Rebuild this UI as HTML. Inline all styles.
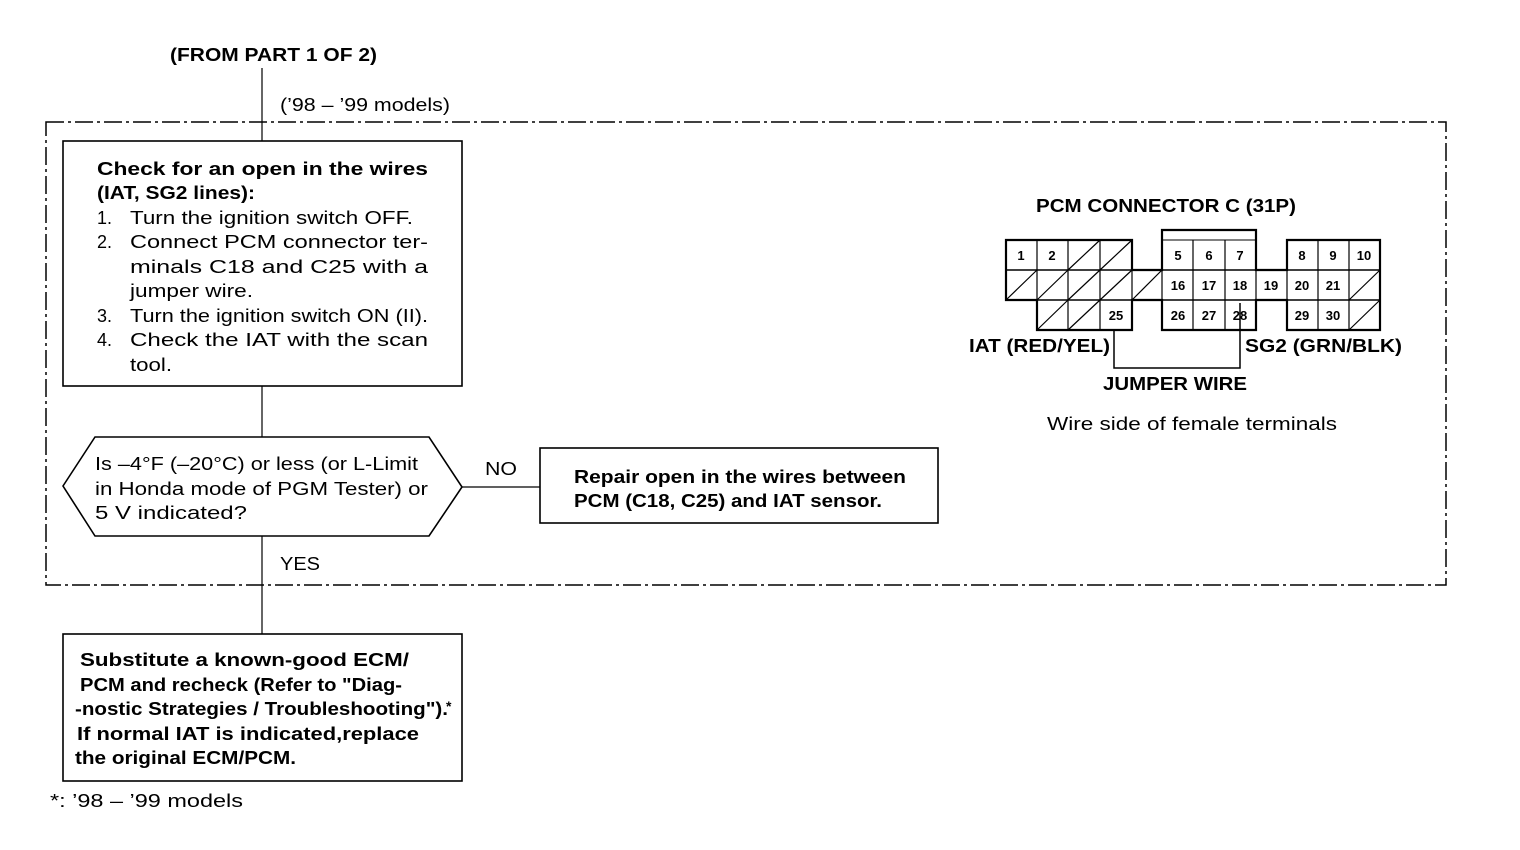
<!DOCTYPE html>
<html><head><meta charset="utf-8"><style>
html,body{margin:0;padding:0;background:#fff}
svg{display:block}
text{font-family:"Liberation Sans",sans-serif;fill:#000}
.b{font-weight:bold}
</style></head><body>
<svg width="1520" height="850" viewBox="0 0 1520 850" xmlns="http://www.w3.org/2000/svg">
<g stroke="#000" fill="none">
<rect x="46" y="122" width="1400" height="463" stroke-width="1.5" stroke-dasharray="18,4,3,4"/>
<line x1="262" y1="68" x2="262" y2="634" stroke-width="1.2"/>
<rect x="63" y="141" width="399" height="245" fill="#fff" stroke-width="1.6"/>
<polygon points="63,486 95,437 429,437 462,487 429,536 95,536" fill="#fff" stroke-width="1.6"/>
<line x1="462" y1="487" x2="540" y2="487" stroke-width="1.2"/>
<rect x="540" y="448" width="398" height="75" stroke-width="1.6"/>
<rect x="63" y="634" width="399" height="147" fill="#fff" stroke-width="1.6"/>
</g>
<g font-size="18" lengthAdjust="spacingAndGlyphs">
<text x="170" y="61" class="b" textLength="207" lengthAdjust="spacingAndGlyphs">(FROM PART 1 OF 2)</text>
<text x="280" y="111" textLength="170" lengthAdjust="spacingAndGlyphs">(’98 – ’99 models)</text>
<text x="97" y="175" class="b" textLength="331" lengthAdjust="spacingAndGlyphs">Check for an open in the wires</text>
<text x="97" y="199" class="b" textLength="158" lengthAdjust="spacingAndGlyphs">(IAT, SG2 lines):</text>
<text x="97" y="224">1.</text><text x="130" y="224" textLength="283" lengthAdjust="spacingAndGlyphs">Turn the ignition switch OFF.</text>
<text x="97" y="248">2.</text><text x="130" y="248" textLength="298" lengthAdjust="spacingAndGlyphs">Connect PCM connector ter-</text>
<text x="130" y="273" textLength="298" lengthAdjust="spacingAndGlyphs">minals C18 and C25 with a</text>
<text x="130" y="297" textLength="123" lengthAdjust="spacingAndGlyphs">jumper wire.</text>
<text x="97" y="322">3.</text><text x="130" y="322" textLength="298" lengthAdjust="spacingAndGlyphs">Turn the ignition switch ON (II).</text>
<text x="97" y="346">4.</text><text x="130" y="346" textLength="298" lengthAdjust="spacingAndGlyphs">Check the IAT with the scan</text>
<text x="130" y="371" textLength="42" lengthAdjust="spacingAndGlyphs">tool.</text>
<text x="95" y="470" textLength="323" lengthAdjust="spacingAndGlyphs">Is –4°F (–20°C) or less (or L-Limit</text>
<text x="95" y="495" textLength="333" lengthAdjust="spacingAndGlyphs">in Honda mode of PGM Tester) or</text>
<text x="95" y="519" textLength="152" lengthAdjust="spacingAndGlyphs">5 V indicated?</text>
<text x="485" y="475" textLength="32" lengthAdjust="spacingAndGlyphs">NO</text>
<text x="280" y="570" textLength="40" lengthAdjust="spacingAndGlyphs">YES</text>
<text x="574" y="483" class="b" textLength="332" lengthAdjust="spacingAndGlyphs">Repair open in the wires between</text>
<text x="574" y="507" class="b" textLength="308" lengthAdjust="spacingAndGlyphs">PCM (C18, C25) and IAT sensor.</text>
<text x="80" y="666" class="b" textLength="329" lengthAdjust="spacingAndGlyphs">Substitute a known-good ECM/</text>
<text x="80" y="691" class="b" textLength="322" lengthAdjust="spacingAndGlyphs">PCM and recheck (Refer to "Diag-</text>
<text x="75" y="715" class="b" textLength="373" lengthAdjust="spacingAndGlyphs">-nostic Strategies / Troubleshooting").</text>
<text x="446" y="711" font-size="14" class="b">*</text>
<text x="77" y="740" class="b" textLength="342" lengthAdjust="spacingAndGlyphs">If normal  IAT  is indicated,replace</text>
<text x="75" y="764" class="b" textLength="221" lengthAdjust="spacingAndGlyphs">the original ECM/PCM.</text>
<text x="50" y="807" textLength="193" lengthAdjust="spacingAndGlyphs">*: ’98 – ’99 models</text>
<text x="1036" y="212" class="b" textLength="260" lengthAdjust="spacingAndGlyphs">PCM CONNECTOR C (31P)</text>
<text x="969" y="352" class="b" textLength="141" lengthAdjust="spacingAndGlyphs">IAT (RED/YEL)</text>
<text x="1245" y="352" class="b" textLength="157" lengthAdjust="spacingAndGlyphs">SG2 (GRN/BLK)</text>
<text x="1103" y="390" class="b" textLength="144" lengthAdjust="spacingAndGlyphs">JUMPER WIRE</text>
<text x="1047" y="430" textLength="290" lengthAdjust="spacingAndGlyphs">Wire side of female terminals</text>
</g>
<!-- connector -->
<g stroke="#000" fill="none">
<path d="M1006,240 H1132 V270 H1162 V230 H1256 V270 H1287 V240 H1380 V330 H1287 V300 H1256 V330 H1162 V300 H1132 V330 H1037 V300 H1006 Z" stroke-width="2.2" fill="#fff"/>
<line x1="1162" y1="240" x2="1256" y2="240" stroke-width="1"/>
<line x1="1006" y1="270" x2="1380" y2="270" stroke-width="1.5"/>
<line x1="1006" y1="300" x2="1380" y2="300" stroke-width="1.5"/>
<g stroke-width="1.2">
<line x1="1037" y1="240" x2="1037" y2="300"/>
<line x1="1068" y1="240" x2="1068" y2="330"/>
<line x1="1100" y1="240" x2="1100" y2="330"/>
<line x1="1132" y1="270" x2="1132" y2="300"/>
<line x1="1193" y1="240" x2="1193" y2="330"/>
<line x1="1225" y1="240" x2="1225" y2="330"/>
<line x1="1287" y1="270" x2="1287" y2="300"/>
<line x1="1318" y1="240" x2="1318" y2="330"/>
<line x1="1349" y1="240" x2="1349" y2="330"/>
<line x1="1162" y1="270" x2="1162" y2="300"/>
<line x1="1256" y1="270" x2="1256" y2="300"/>
<line x1="1068" y1="270" x2="1100" y2="240"/>
<line x1="1100" y1="270" x2="1132" y2="240"/>
<line x1="1006" y1="300" x2="1037" y2="270"/>
<line x1="1037" y1="300" x2="1068" y2="270"/>
<line x1="1068" y1="300" x2="1100" y2="270"/>
<line x1="1100" y1="300" x2="1132" y2="270"/>
<line x1="1132" y1="300" x2="1162" y2="270"/>
<line x1="1037" y1="330" x2="1068" y2="300"/>
<line x1="1068" y1="330" x2="1100" y2="300"/>
<line x1="1349" y1="300" x2="1380" y2="270"/>
<line x1="1349" y1="330" x2="1380" y2="300"/>
</g>
<polyline points="1114,330 1114,368 1240,368 1240,303" stroke-width="1.5"/>
</g>
<g font-size="13" class="b" text-anchor="middle">
<text x="1021" y="260">1</text><text x="1052" y="260">2</text>
<text x="1178" y="260">5</text><text x="1209" y="260">6</text><text x="1240" y="260">7</text>
<text x="1302" y="260">8</text><text x="1333" y="260">9</text><text x="1364" y="260">10</text>
<text x="1178" y="290">16</text><text x="1209" y="290">17</text><text x="1240" y="290">18</text>
<text x="1271" y="290">19</text><text x="1302" y="290">20</text><text x="1333" y="290">21</text>
<text x="1116" y="320">25</text><text x="1178" y="320">26</text><text x="1209" y="320">27</text><text x="1240" y="320">28</text>
<text x="1302" y="320">29</text><text x="1333" y="320">30</text>
</g>
</svg>
</body></html>
